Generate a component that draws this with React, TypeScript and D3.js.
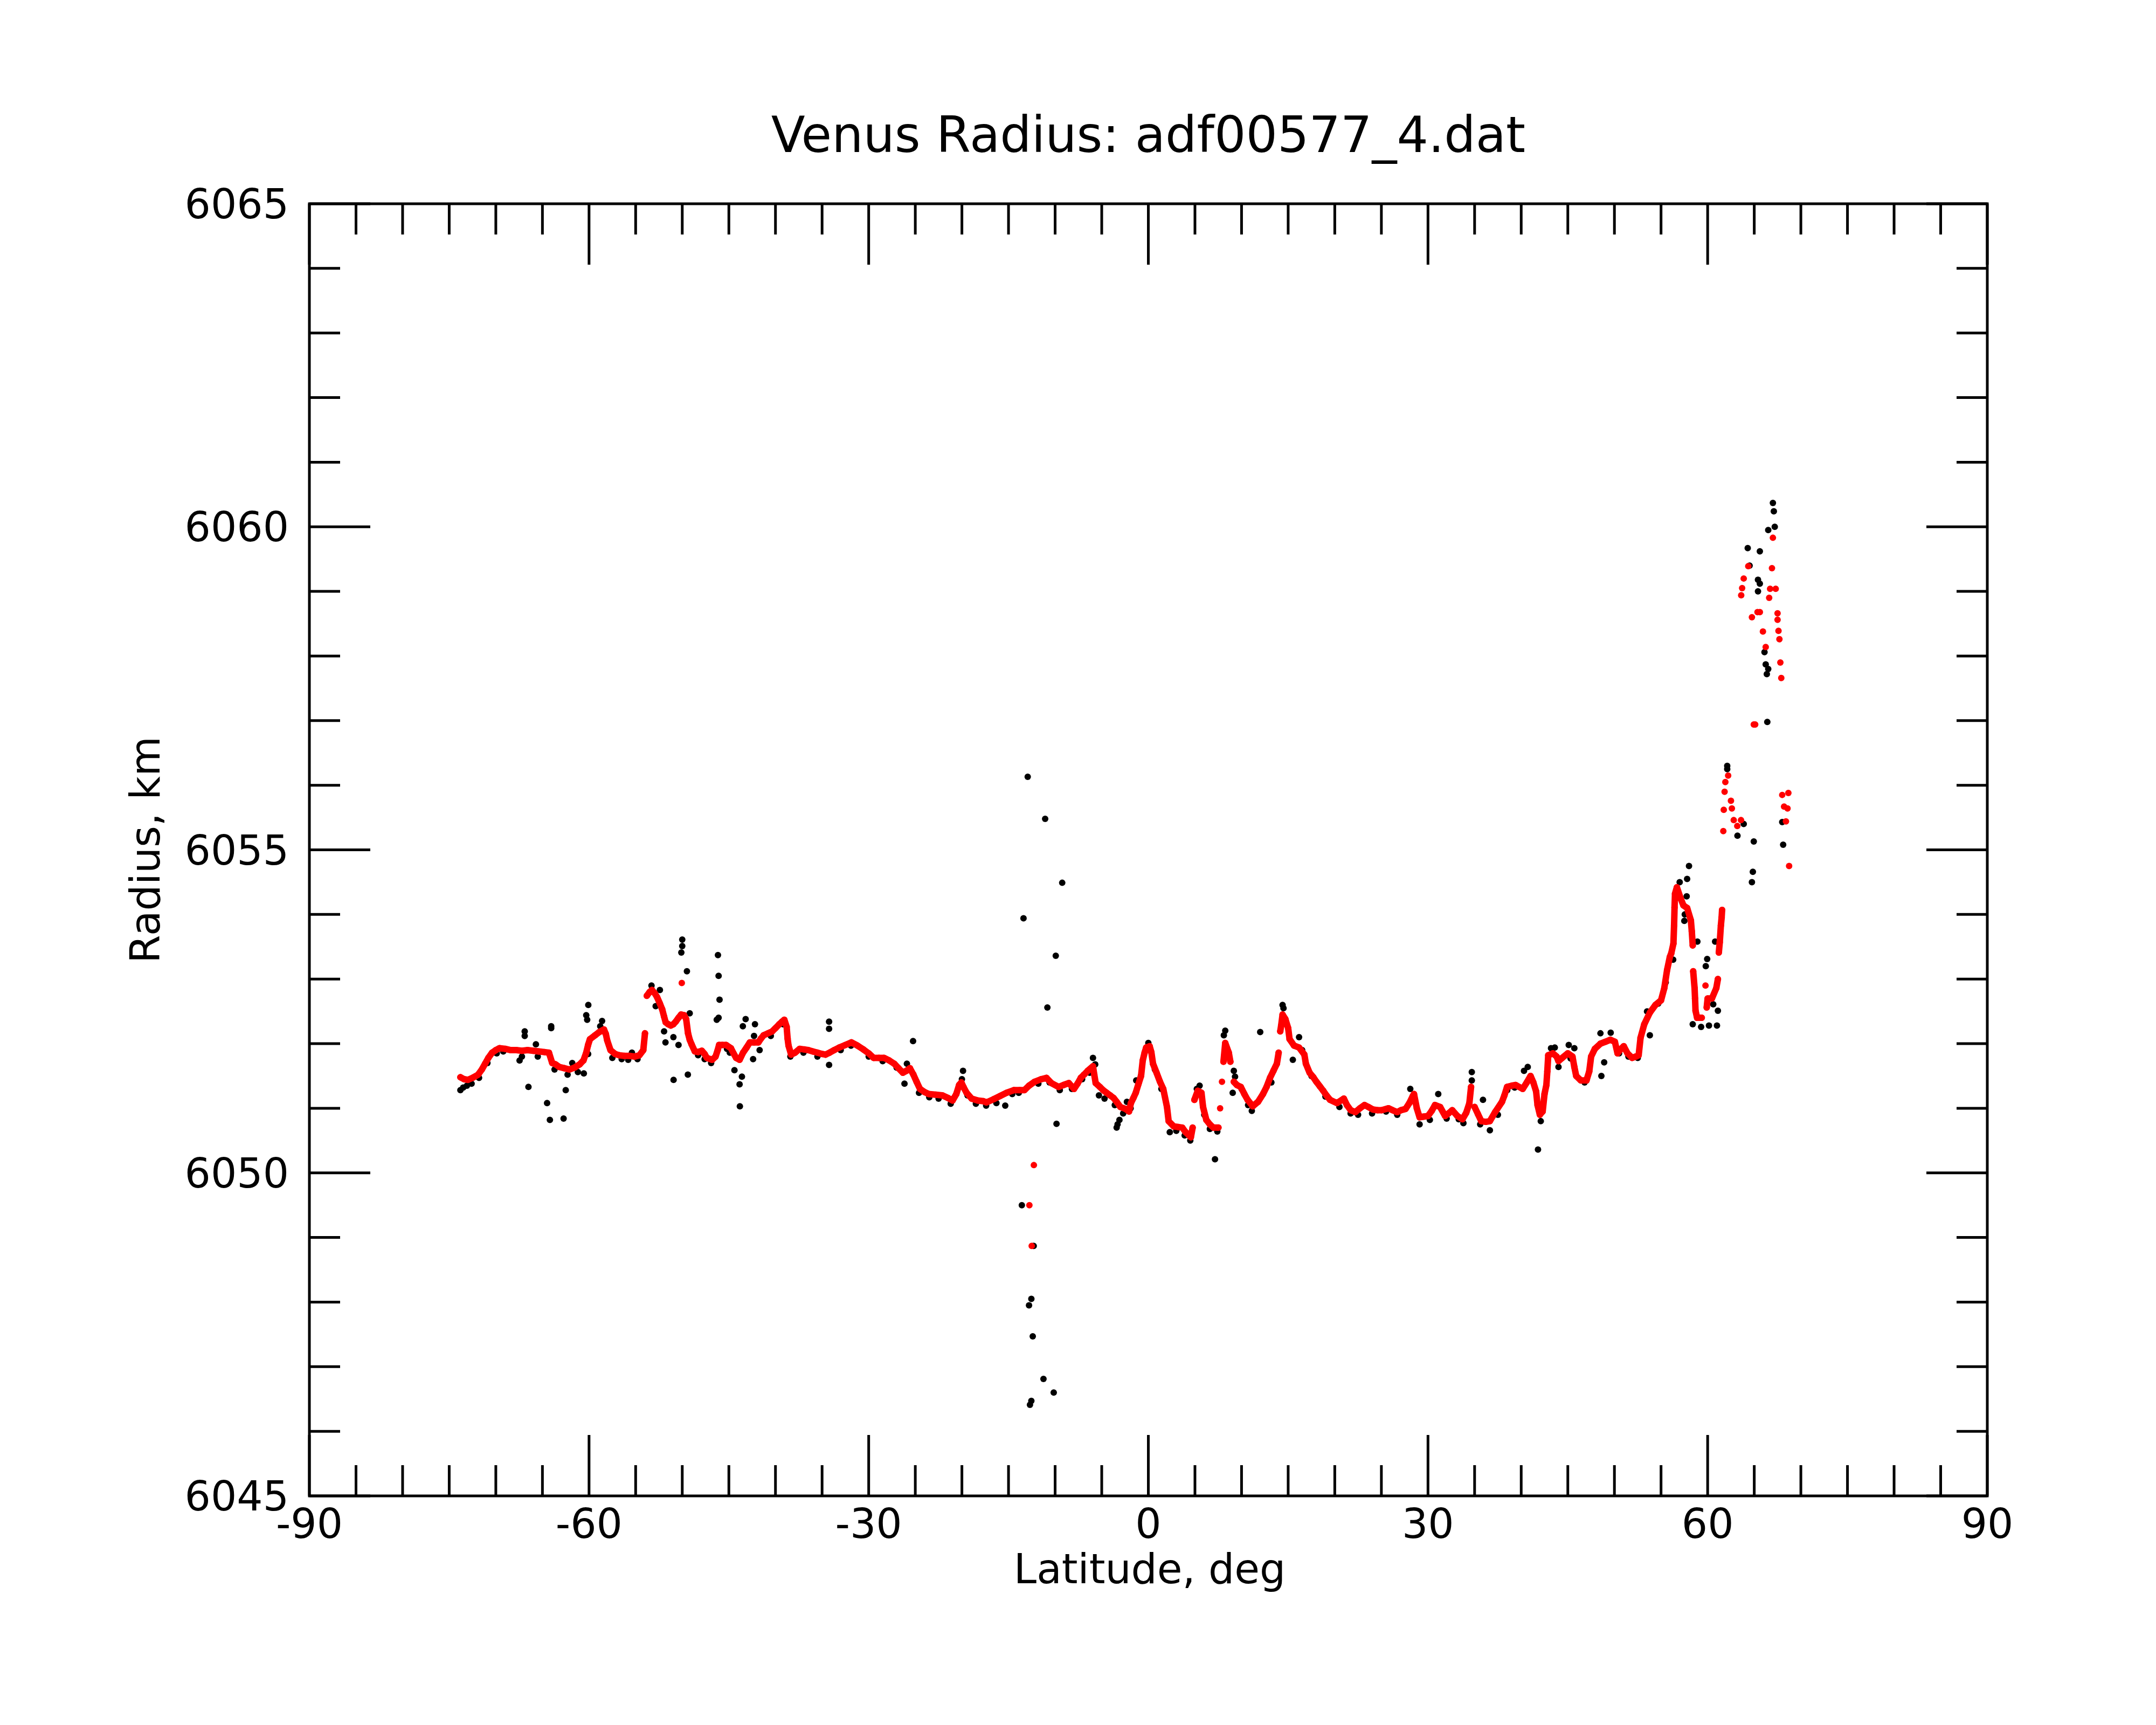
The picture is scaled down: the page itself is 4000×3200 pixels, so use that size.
import * as d3 from 'd3'

// plot frame (px, on the 4000x3200 page)
const W = 4000
const H = 3200
const LEFT = 574
const RIGHT = 3687
const TOP = 378
const BOTTOM = 2775

const title = 'Venus Radius: adf00577_4.dat'
const xLabel = 'Latitude, deg'
const yLabel = 'Radius, km'

const xMajor = [-90, -60, -30, 0, 30, 60, 90]
const yMajor = [6045, 6050, 6055, 6060, 6065]

// smoothed profile (red), [latitude, radius km]
const smoothed: [number, number][] = [
  [-73.8, 6051.48], [-73.4, 6051.45], [-73.0, 6051.44], [-72.5, 6051.47], [-71.9, 6051.52], [-71.5, 6051.6],
  [-71.15, 6051.69], [-70.8, 6051.78], [-70.4, 6051.86], [-70.0, 6051.9], [-69.6, 6051.93], [-69.0, 6051.92],
  [-68.4, 6051.9], [-67.8, 6051.9], [-67.2, 6051.89], [-66.6, 6051.9], [-66.0, 6051.89], [-65.4, 6051.88],
  [-64.8, 6051.87], [-64.3, 6051.86], [-63.95, 6051.7], [-63.6, 6051.68], [-63.2, 6051.64], [-62.65, 6051.62],
  [-62.1, 6051.6], [-61.55, 6051.63], [-61.0, 6051.68], [-60.6, 6051.74], [-60.3, 6051.86], [-60.1, 6051.98],
  [-59.9, 6052.07], [-59.35, 6052.13], [-58.9, 6052.18], [-58.4, 6052.22], [-58.2, 6052.15], [-58.05, 6052.05],
  [-57.7, 6051.9], [-57.2, 6051.84], [-56.75, 6051.82], [-56.2, 6051.81], [-55.6, 6051.81], [-55.1, 6051.8],
  [-54.6, 6051.82], [-54.18, 6051.9], [-54.0, 6052.16], [-53.8, 6052.74], [-53.5, 6052.8], [-53.25, 6052.83],
  [-52.95, 6052.78], [-52.7, 6052.72], [-52.4, 6052.62], [-52.15, 6052.53], [-51.95, 6052.42], [-51.78, 6052.33],
  [-51.5, 6052.3], [-51.23, 6052.28], [-50.95, 6052.3], [-50.7, 6052.34], [-50.4, 6052.4], [-50.12, 6052.45],
  [-49.8, 6052.44], [-49.58, 6052.38], [-49.38, 6052.16], [-49.2, 6052.06], [-49.0, 6051.99], [-48.65, 6051.88],
  [-48.3, 6051.87], [-47.9, 6051.89], [-47.6, 6051.84], [-47.36, 6051.78], [-46.8, 6051.75], [-46.43, 6051.8],
  [-46.2, 6051.9], [-46.05, 6051.98], [-45.7, 6051.98], [-45.3, 6051.98], [-44.78, 6051.93], [-44.5, 6051.85],
  [-44.22, 6051.78], [-43.85, 6051.75], [-43.48, 6051.86], [-43.1, 6051.94], [-42.75, 6052.02], [-42.3, 6052.02],
  [-41.83, 6052.02], [-41.55, 6052.08], [-41.27, 6052.13], [-40.8, 6052.16], [-40.35, 6052.19], [-40.0, 6052.24],
  [-39.6, 6052.3], [-39.3, 6052.34], [-39.05, 6052.37], [-38.8, 6052.26], [-38.7, 6052.08], [-38.6, 6051.97],
  [-38.32, 6051.83], [-37.9, 6051.86], [-37.4, 6051.92], [-36.9, 6051.91], [-36.48, 6051.9], [-36.0, 6051.88],
  [-35.5, 6051.86], [-35.0, 6051.84], [-34.63, 6051.83], [-34.2, 6051.86], [-33.7, 6051.9], [-33.16, 6051.94],
  [-32.5, 6051.98], [-31.86, 6052.02], [-31.2, 6051.97], [-30.57, 6051.91], [-30.0, 6051.85], [-29.47, 6051.78],
  [-28.9, 6051.78], [-28.36, 6051.78], [-27.8, 6051.74], [-27.26, 6051.69], [-26.8, 6051.62], [-26.33, 6051.55],
  [-25.95, 6051.58], [-25.58, 6051.62], [-25.2, 6051.52], [-24.86, 6051.41], [-24.5, 6051.3], [-24.0, 6051.25],
  [-23.56, 6051.22], [-22.8, 6051.21], [-22.1, 6051.2], [-21.5, 6051.16], [-21.0, 6051.12], [-20.6, 6051.22],
  [-20.3, 6051.36], [-20.06, 6051.4], [-19.8, 6051.32], [-19.5, 6051.24], [-18.96, 6051.15], [-18.3, 6051.12],
  [-17.7, 6051.11], [-17.37, 6051.09], [-16.6, 6051.14], [-15.9, 6051.19], [-15.2, 6051.24], [-14.43, 6051.28],
  [-13.8, 6051.28], [-13.3, 6051.28], [-12.8, 6051.35], [-12.2, 6051.41], [-11.5, 6051.45], [-10.93, 6051.47],
  [-10.4, 6051.39], [-9.63, 6051.33], [-9.1, 6051.36], [-8.53, 6051.39], [-7.97, 6051.3], [-7.6, 6051.38],
  [-7.25, 6051.47], [-6.9, 6051.52], [-6.5, 6051.58], [-5.94, 6051.65], [-5.8, 6051.52], [-5.65, 6051.39],
  [-5.2, 6051.33], [-4.85, 6051.28], [-4.48, 6051.24], [-3.73, 6051.16], [-3.4, 6051.1], [-3.0, 6051.02],
  [-2.45, 6050.99], [-2.07, 6050.95], [-1.87, 6051.08], [-1.6, 6051.16], [-1.35, 6051.24], [-1.05, 6051.38],
  [-0.78, 6051.5], [-0.6, 6051.74], [-0.4, 6051.86], [-0.23, 6051.94], [0.14, 6051.96], [0.32, 6051.87],
  [0.5, 6051.69], [0.88, 6051.55], [1.25, 6051.41], [1.6, 6051.3], [2.0, 6051.02], [2.18, 6050.8],
  [2.72, 6050.72], [3.2, 6050.71], [3.64, 6050.7], [4.0, 6050.63], [4.56, 6050.55], [4.75, 6050.7],
  [4.94, 6051.13], [5.3, 6051.27], [5.7, 6051.24], [5.87, 6051.02], [6.22, 6050.82], [6.6, 6050.75],
  [6.98, 6050.7], [7.52, 6050.7], [7.7, 6051.0], [7.9, 6051.41], [8.06, 6051.72], [8.25, 6052.01],
  [8.63, 6051.86], [8.8, 6051.72], [9.17, 6051.41], [9.5, 6051.36], [9.92, 6051.33], [10.3, 6051.22],
  [10.65, 6051.13], [11.2, 6051.03], [11.77, 6051.1], [12.3, 6051.22], [12.68, 6051.33], [13.05, 6051.47],
  [13.42, 6051.58], [13.79, 6051.69], [13.98, 6051.86], [14.15, 6052.19], [14.25, 6052.28], [14.4, 6052.45],
  [14.7, 6052.38], [15.0, 6052.24], [15.15, 6052.07], [15.63, 6051.97], [16.17, 6051.94], [16.74, 6051.83],
  [16.9, 6051.69], [17.3, 6051.55], [17.7, 6051.48], [18.03, 6051.41], [18.4, 6051.34], [18.77, 6051.27],
  [19.1, 6051.2], [19.5, 6051.13], [20.24, 6051.08], [20.97, 6051.15], [21.3, 6051.05], [21.71, 6050.97],
  [22.2, 6050.94], [22.7, 6051.0], [23.19, 6051.05], [23.6, 6051.02], [24.1, 6050.98], [24.6, 6050.97],
  [25.03, 6050.97], [25.77, 6051.0], [26.2, 6050.97], [26.7, 6050.94], [27.1, 6050.97], [27.6, 6050.99],
  [28.0, 6051.08], [28.37, 6051.19], [28.5, 6051.22], [28.8, 6051.0], [29.1, 6050.86], [29.5, 6050.87],
  [30.0, 6050.88], [30.4, 6050.96], [30.75, 6051.05], [31.3, 6051.02], [31.84, 6050.88], [32.2, 6050.92],
  [32.6, 6050.97], [33.15, 6050.88], [33.7, 6050.83], [34.1, 6050.93], [34.44, 6051.08], [34.62, 6051.33],
  [35.0, 6051.02], [35.36, 6050.91], [35.72, 6050.8], [36.2, 6050.79], [36.64, 6050.8], [37.2, 6050.94],
  [37.94, 6051.1], [38.2, 6051.2], [38.48, 6051.33], [39.0, 6051.35], [39.4, 6051.36], [40.16, 6051.3],
  [40.6, 6051.4], [41.0, 6051.5], [41.3, 6051.4], [41.6, 6051.26], [41.75, 6051.05], [42.0, 6050.9],
  [42.3, 6050.95], [42.5, 6051.22], [42.7, 6051.36], [42.8, 6051.57], [42.9, 6051.82], [43.4, 6051.85],
  [43.8, 6051.8], [44.0, 6051.73], [44.4, 6051.78], [45.0, 6051.85], [45.5, 6051.8], [45.7, 6051.64],
  [45.9, 6051.5], [46.4, 6051.43], [47.0, 6051.43], [47.3, 6051.57], [47.5, 6051.8], [47.9, 6051.92],
  [48.5, 6052.0], [49.05, 6052.03], [49.56, 6052.06], [50.05, 6052.03], [50.33, 6051.85], [50.7, 6051.92],
  [51.0, 6051.96], [51.4, 6051.85], [51.9, 6051.78], [52.3, 6051.8], [52.6, 6051.82], [52.8, 6052.09],
  [53.2, 6052.3], [53.8, 6052.48], [54.4, 6052.6], [55.0, 6052.67], [55.35, 6052.86], [55.65, 6053.14],
  [55.94, 6053.34], [56.1, 6053.4], [56.33, 6053.55], [56.4, 6053.83], [56.45, 6054.11], [56.5, 6054.32],
  [56.7, 6054.42], [57.1, 6054.25], [57.4, 6054.14], [57.8, 6054.1], [58.2, 6053.91], [58.3, 6053.74],
  [58.4, 6053.52], [58.45, 6053.12], [58.6, 6052.86], [58.65, 6052.7], [58.7, 6052.51], [58.87, 6052.4],
  [59.37, 6052.4], [59.77, 6052.9], [59.9, 6052.56], [60.0, 6052.7], [60.46, 6052.7], [60.93, 6052.86],
  [61.1, 6053.0], [61.2, 6053.41], [61.3, 6053.57], [61.42, 6053.83], [61.5, 6053.95], [61.55, 6054.07]
]

// smoothed values away from the continuous profile (red)
const smoothedStray: [number, number][] = [
  [-50.05, 6052.94], [-12.28, 6050.12], [-12.76, 6049.5], [-12.51, 6048.87],
  [61.68, 6055.29], [61.73, 6055.62], [61.82, 6055.9], [61.9, 6056.05], [62.2, 6056.15], [62.5, 6055.76],
  [62.6, 6055.64], [62.8, 6055.46], [63.18, 6055.37], [63.58, 6055.46], [63.6, 6058.94], [63.7, 6059.05],
  [63.87, 6059.2], [64.36, 6059.39], [64.75, 6058.6], [64.95, 6056.94], [65.1, 6056.94], [65.35, 6058.68],
  [65.6, 6058.68], [65.93, 6058.38], [66.23, 6058.14], [66.6, 6058.9], [66.7, 6059.04], [66.9, 6059.36],
  [67.0, 6059.83], [67.3, 6059.04], [67.5, 6058.66], [67.5, 6058.56], [67.6, 6058.39], [67.7, 6058.26],
  [67.8, 6057.9], [67.9, 6057.66], [68.0, 6055.85], [68.2, 6055.67], [68.4, 6055.44], [68.57, 6055.64],
  [68.66, 6055.88], [68.74, 6054.75]
]

// raw radius measurements (black)
const raw: [number, number][] = [
  [-73.8, 6051.28], [-73.5, 6051.32], [-73.1, 6051.35], [-72.6, 6051.38], [-71.8, 6051.47], [-70.9, 6051.7],
  [-69.9, 6051.85], [-69.2, 6051.88], [-67.45, 6051.74], [-67.2, 6051.8], [-66.9, 6052.19], [-66.9, 6052.12],
  [-66.5, 6051.33], [-65.7, 6051.99], [-65.5, 6051.8], [-64.5, 6051.08], [-64.2, 6050.82], [-64.06, 6052.27],
  [-64.06, 6052.24], [-63.7, 6051.6], [-62.73, 6050.84], [-62.5, 6051.28], [-62.3, 6051.52], [-61.8, 6051.7],
  [-61.2, 6051.56], [-60.56, 6051.54], [-60.3, 6052.44], [-60.08, 6052.6], [-60.2, 6052.37], [-60.1, 6051.84],
  [-58.8, 6052.27], [-58.6, 6052.35], [-57.5, 6051.78], [-56.5, 6051.76], [-55.8, 6051.75], [-55.4, 6051.86],
  [-54.8, 6051.76], [-53.3, 6052.9], [-52.85, 6052.58], [-52.4, 6052.83], [-51.95, 6052.19], [-51.8, 6052.02],
  [-50.95, 6052.1], [-50.93, 6051.44], [-50.4, 6051.98], [-50.0, 6053.61], [-50.0, 6053.51], [-50.1, 6053.41],
  [-49.5, 6053.12], [-49.4, 6051.52], [-49.2, 6052.47], [-48.3, 6051.82], [-47.6, 6051.76], [-46.9, 6051.7],
  [-46.17, 6053.37], [-46.1, 6053.05], [-46.0, 6052.68], [-46.1, 6052.4], [-46.3, 6052.37], [-45.2, 6051.92],
  [-44.9, 6051.86], [-44.4, 6051.59], [-43.85, 6051.37], [-43.82, 6051.03], [-43.6, 6051.49], [-43.2, 6052.38],
  [-43.5, 6052.27], [-42.2, 6052.3], [-42.3, 6052.12], [-42.4, 6051.76], [-41.7, 6051.9], [-40.5, 6052.12],
  [-39.2, 6052.3], [-38.4, 6051.8], [-37.0, 6051.86], [-35.5, 6051.8], [-34.25, 6052.34], [-34.25, 6052.23],
  [-34.25, 6051.67], [-33.0, 6051.9], [-31.9, 6051.97], [-30.0, 6051.8], [-28.5, 6051.73], [-27.0, 6051.63],
  [-26.16, 6051.38], [-25.9, 6051.69], [-25.24, 6052.04], [-24.6, 6051.24], [-23.5, 6051.17], [-22.5, 6051.15],
  [-21.2, 6051.07], [-20.0, 6051.45], [-19.88, 6051.58], [-19.4, 6051.2], [-18.5, 6051.07], [-17.4, 6051.04],
  [-16.3, 6051.08], [-15.35, 6051.04], [-14.6, 6051.22], [-13.9, 6051.24],
  [-12.94, 6056.13], [-11.07, 6055.48], [-9.24, 6054.49], [-13.39, 6053.94], [-9.93, 6053.36], [-10.83, 6052.56],
  [-9.85, 6050.76], [-13.57, 6049.5], [-12.3, 6048.87], [-12.55, 6048.05], [-12.8, 6047.95], [-12.4, 6047.47],
  [-11.25, 6046.81], [-10.15, 6046.6], [-12.55, 6046.47], [-12.7, 6046.41],
  [-11.8, 6051.38], [-10.6, 6051.4], [-9.5, 6051.28], [-8.2, 6051.3], [-7.1, 6051.45], [-6.3, 6051.55],
  [-5.94, 6051.78], [-5.7, 6051.68], [-5.3, 6051.2], [-4.7, 6051.15], [-4.1, 6051.2], [-3.6, 6051.05],
  [-3.4, 6050.7], [-3.3, 6050.75], [-3.1, 6050.82], [-2.7, 6050.92], [-2.3, 6051.1], [-1.9, 6051.0],
  [-1.3, 6051.43], [-0.8, 6051.5], [0.0, 6052.01], [0.7, 6051.6], [1.4, 6051.3], [2.3, 6050.63],
  [3.0, 6050.65], [3.9, 6050.58], [4.5, 6050.5], [5.2, 6051.3], [5.5, 6051.35], [6.0, 6050.9],
  [6.6, 6050.68], [7.15, 6050.21], [7.4, 6050.64], [8.1, 6052.13], [8.25, 6052.2], [9.05, 6051.24],
  [9.17, 6051.58], [9.3, 6051.49], [10.0, 6051.3], [10.7, 6051.05], [11.1, 6050.96], [12.0, 6052.18],
  [13.2, 6051.4], [14.4, 6052.6], [14.5, 6052.55], [15.5, 6051.75], [16.17, 6052.1], [16.5, 6051.9],
  [17.5, 6051.5], [19.0, 6051.18], [20.5, 6051.02], [21.7, 6050.92], [22.5, 6050.9], [24.0, 6050.92],
  [25.5, 6050.95], [26.7, 6050.9], [28.1, 6051.3], [29.1, 6050.75], [30.2, 6050.82], [31.1, 6051.22],
  [32.0, 6050.84], [33.3, 6050.83], [33.8, 6050.77], [34.7, 6051.56], [34.7, 6051.43], [35.9, 6051.13],
  [35.6, 6050.75], [36.64, 6050.66], [37.5, 6050.9], [38.5, 6051.28], [39.3, 6051.32], [40.3, 6051.58],
  [40.7, 6051.64], [41.8, 6050.36], [42.1, 6050.8], [43.2, 6051.93], [43.6, 6051.94], [44.0, 6051.64],
  [45.1, 6051.98], [45.3, 6051.77], [45.7, 6051.93], [46.8, 6051.4], [48.5, 6052.16], [48.6, 6051.5],
  [48.9, 6051.71], [49.6, 6052.17], [50.5, 6051.85], [51.5, 6051.8], [52.5, 6051.78], [53.5, 6052.5],
  [53.8, 6052.13], [54.7, 6052.62], [55.5, 6052.95], [56.3, 6053.3], [57.0, 6054.5], [57.5, 6053.9],
  [57.55, 6054.0], [57.75, 6054.28], [57.8, 6054.55], [58.0, 6054.75], [58.4, 6052.3], [58.9, 6053.58],
  [59.3, 6052.26], [59.8, 6053.2], [59.95, 6053.31], [60.14, 6052.28], [60.6, 6052.61], [60.8, 6053.58],
  [61.0, 6052.28], [61.1, 6052.51], [62.1, 6056.3], [62.1, 6056.25], [63.2, 6055.22], [63.87, 6055.4],
  [64.3, 6059.67], [64.5, 6059.4], [64.75, 6054.5], [64.85, 6054.66], [64.95, 6055.13], [65.4, 6059.18],
  [65.4, 6059.0], [65.6, 6059.62], [65.6, 6059.12], [66.1, 6058.06], [66.23, 6057.87], [66.35, 6057.72],
  [66.4, 6056.98], [66.5, 6057.8], [66.5, 6059.95], [67.0, 6060.37], [67.1, 6060.24], [67.2, 6060.0],
  [68.0, 6055.43], [68.1, 6055.08]
]

const FONT = 'DejaVu Sans, sans-serif'
const STROKE = 5
const DOT = 6

export default function App() {
  const x = d3.scaleLinear().domain([-90, 90]).range([LEFT, RIGHT])
  const y = d3.scaleLinear().domain([6045, 6065]).range([BOTTOM, TOP])

  const xMinor = d3.range(-90, 91, 5).filter((v) => !xMajor.includes(v))
  const yMinor = d3.range(6045, 6066, 1).filter((v) => !yMajor.includes(v))

  // break the red profile where it jumps, so steep parts stay as separate dots
  const segments: [number, number][][] = []
  smoothed.forEach((p, i) => {
    const prev = smoothed[i - 1]
    if (!prev || Math.abs(p[1] - prev[1]) > 0.3 || p[0] - prev[0] > 1) segments.push([p])
    else segments[segments.length - 1].push(p)
  })
  const line = d3
    .line<[number, number]>()
    .x((d) => x(d[0]))
    .y((d) => y(d[1]))

  const MAJ = 113
  const MIN = 57

  return (
    <svg
      width={W}
      height={H}
      viewBox={`0 0 ${W} ${H}`}
      style={{ position: 'absolute', left: 0, top: 0, background: '#fff' }}
      fontFamily={FONT}
    >
      <rect width={W} height={H} fill="#fff" />

      {/* raw points */}
      <g fill="#000">
        {raw.map((d, i) => (
          <circle key={i} cx={x(d[0])} cy={y(d[1])} r={DOT} />
        ))}
      </g>

      {/* smoothed profile */}
      <g fill="none" stroke="#ff0000" strokeWidth={DOT * 2} strokeLinecap="round" strokeLinejoin="round">
        {segments
          .filter((s) => s.length > 1)
          .map((s, i) => (
            <path key={i} d={line(s) || ''} />
          ))}
      </g>
      <g fill="#ff0000">
        {smoothed.concat(smoothedStray).map((d, i) => (
          <circle key={i} cx={x(d[0])} cy={y(d[1])} r={DOT} />
        ))}
      </g>

      {/* frame and ticks */}
      <g stroke="#000" strokeWidth={STROKE} fill="none">
        <rect x={LEFT} y={TOP} width={RIGHT - LEFT} height={BOTTOM - TOP} />
        {xMajor.map((v) => (
          <g key={'xm' + v}>
            <line x1={x(v)} x2={x(v)} y1={BOTTOM} y2={BOTTOM - MAJ} />
            <line x1={x(v)} x2={x(v)} y1={TOP} y2={TOP + MAJ} />
          </g>
        ))}
        {xMinor.map((v) => (
          <g key={'xn' + v}>
            <line x1={x(v)} x2={x(v)} y1={BOTTOM} y2={BOTTOM - MIN} />
            <line x1={x(v)} x2={x(v)} y1={TOP} y2={TOP + MIN} />
          </g>
        ))}
        {yMajor.map((v) => (
          <g key={'ym' + v}>
            <line x1={LEFT} x2={LEFT + MAJ} y1={y(v)} y2={y(v)} />
            <line x1={RIGHT} x2={RIGHT - MAJ} y1={y(v)} y2={y(v)} />
          </g>
        ))}
        {yMinor.map((v) => (
          <g key={'yn' + v}>
            <line x1={LEFT} x2={LEFT + MIN} y1={y(v)} y2={y(v)} />
            <line x1={RIGHT} x2={RIGHT - MIN} y1={y(v)} y2={y(v)} />
          </g>
        ))}
      </g>

      {/* tick labels */}
      <g fontSize={76} fill="#000">
        {xMajor.map((v) => (
          <text key={'xl' + v} x={x(v)} y={2853} textAnchor="middle">
            {v}
          </text>
        ))}
        {yMajor.map((v) => (
          <text key={'yl' + v} x={536} y={y(v) + 27} textAnchor="end">
            {v}
          </text>
        ))}
      </g>

      <text x={(LEFT + RIGHT) / 2} y={282} fontSize={92} textAnchor="middle" fill="#000">
        {title}
      </text>
      <text x={2133} y={2937} fontSize={76} textAnchor="middle" fill="#000">
        {xLabel}
      </text>
      <text
        transform={`translate(296, ${(TOP + BOTTOM) / 2}) rotate(-90)`}
        fontSize={76}
        textAnchor="middle"
        fill="#000"
      >
        {yLabel}
      </text>
    </svg>
  )
}
